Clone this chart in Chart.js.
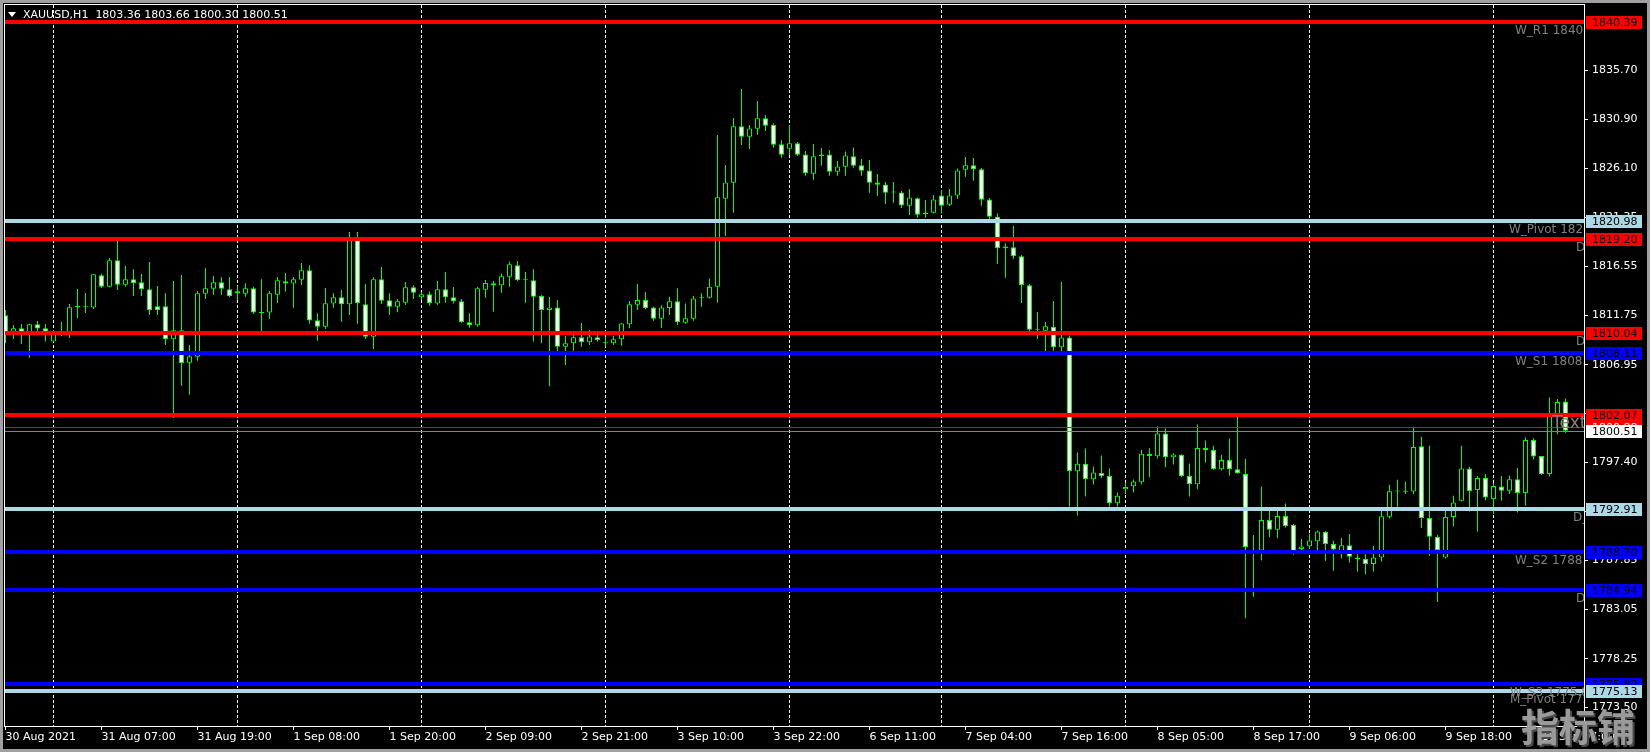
<!DOCTYPE html>
<html>
<head>
<meta charset="utf-8">
<script src="https://cdn.jsdelivr.net/npm/chart.js@4.4.1/dist/chart.umd.min.js"></script>
<style>
html,body{margin:0;padding:0;background:#000;overflow:hidden;}
canvas{display:block;}
</style>
</head>
<body>
<canvas id="c" width="1650" height="752"></canvas>
<script>
// ---------------- DATA (XAUUSD H1) ----------------
const openP = [1811.77,1810.17,1810.50,1809.85,1810.89,1810.50,1809.20,1810.20,1810.17,1812.58,
1812.55,1812.52,1815.67,1814.56,1817.13,1814.76,1815.28,1814.99,1814.30,1812.64,
1812.64,1809.42,1810.30,1807.15,1807.73,1813.88,1814.37,1814.99,1814.30,1814.11,
1813.88,1814.40,1812.03,1812.03,1813.78,1815.08,1814.86,1815.25,1816.16,1811.28,
1810.66,1812.91,1813.52,1812.84,1819.12,1812.84,1809.68,1815.28,1813.23,1812.61,
1813.00,1814.50,1813.52,1813.82,1812.91,1814.30,1813.52,1813.13,1811.08,1810.79,
1814.27,1814.89,1814.69,1815.54,1816.65,1815.28,1815.18,1813.65,1812.28,1812.54,
1808.71,1809.03,1809.62,1809.13,1809.62,1809.03,1809.03,1809.42,1810.89,1812.80,
1813.26,1812.54,1811.44,1812.48,1813.13,1811.05,1811.44,1813.49,1813.49,1814.56,
1823.15,1824.71,1830.21,1829.20,1829.98,1830.99,1830.34,1828.45,1828.03,1828.55,
1827.47,1825.58,1827.28,1827.47,1825.78,1826.27,1827.28,1826.40,1825.91,1824.74,
1824.54,1823.76,1823.76,1822.46,1823.18,1821.81,1821.78,1823.47,1822.56,1823.47,
1825.97,1826.40,1826.01,1823.08,1821.39,1818.49,1818.40,1817.52,1814.69,1810.39,
1810.26,1810.65,1808.64,1809.61,1796.55,1797.27,1795.77,1796.39,1796.10,1793.43,
1794.80,1795.09,1795.48,1798.25,1798.02,1800.23,1797.92,1798.15,1796.10,1795.28,
1798.83,1798.64,1796.75,1797.66,1796.75,1796.29,1788.60,1788.81,1791.80,1790.83,
1792.19,1791.32,1788.97,1789.23,1789.72,1790.64,1789.44,1788.59,1789.34,1788.14,
1787.98,1787.49,1788.14,1792.11,1794.58,1794.58,1794.58,1799.00,1791.98,1790.16,
1788.14,1792.08,1793.67,1796.82,1794.71,1795.88,1793.83,1795.07,1794.64,1795.78,
1794.42,1799.59,1798.03,1796.27,1802.00,1803.36];
const highP = [1812.29,1810.82,1810.92,1810.95,1811.21,1810.92,1810.30,1811.12,1812.87,1814.34,
1813.95,1815.80,1815.86,1817.36,1819.05,1816.58,1816.26,1815.80,1816.97,1814.63,
1813.91,1815.12,1815.70,1808.87,1814.14,1816.35,1815.60,1815.47,1815.51,1814.63,
1814.89,1814.56,1815.28,1814.14,1815.51,1815.90,1815.51,1816.87,1816.65,1811.96,
1814.43,1813.91,1814.24,1819.90,1819.90,1814.82,1815.47,1816.48,1813.91,1813.36,
1815.02,1814.69,1814.04,1814.08,1815.12,1816.00,1814.53,1813.36,1811.96,1814.56,
1815.21,1815.12,1815.86,1817.00,1817.07,1816.00,1816.27,1813.75,1813.55,1813.26,
1809.75,1810.01,1811.02,1810.33,1809.85,1809.68,1809.75,1811.05,1813.16,1814.82,
1814.04,1812.61,1812.74,1813.59,1814.40,1812.93,1813.65,1813.91,1815.37,1829.36,
1826.43,1831.02,1833.85,1830.34,1832.68,1831.31,1830.50,1828.84,1830.31,1828.68,
1827.80,1828.48,1828.09,1827.89,1826.82,1827.76,1828.15,1827.02,1826.92,1825.55,
1824.77,1824.77,1823.89,1824.06,1823.27,1823.01,1823.50,1823.99,1824.09,1826.10,
1827.21,1827.11,1826.14,1823.21,1821.71,1818.79,1820.48,1817.65,1814.82,1812.08,
1811.11,1813.16,1815.01,1809.80,1798.38,1798.77,1797.01,1798.08,1796.81,1794.47,
1795.45,1795.74,1798.64,1798.80,1800.91,1800.72,1798.31,1798.20,1797.30,1801.11,
1799.55,1799.03,1798.15,1799.74,1801.89,1797.76,1790.34,1795.06,1792.71,1792.71,
1793.40,1791.40,1789.95,1790.44,1790.76,1790.70,1789.76,1790.03,1790.42,1788.46,
1788.46,1789.28,1792.69,1795.23,1795.72,1795.52,1800.79,1799.91,1799.04,1790.35,
1792.69,1794.16,1799.04,1796.99,1796.08,1796.27,1795.43,1796.08,1796.11,1796.86,
1799.85,1799.78,1798.05,1803.75,1803.59,1803.66];
const lowP = [1809.03,1809.46,1808.97,1807.63,1810.17,1809.20,1809.15,1809.75,1809.55,1811.51,
1811.99,1812.38,1814.43,1814.50,1814.24,1814.56,1813.65,1813.65,1811.80,1811.80,
1808.87,1801.74,1804.90,1804.02,1807.34,1813.36,1813.78,1813.78,1813.52,1813.26,
1813.59,1811.90,1810.24,1811.41,1812.97,1814.08,1812.51,1814.73,1810.95,1809.29,
1810.43,1812.51,1811.15,1811.80,1810.95,1809.46,1808.48,1812.87,1811.80,1812.09,
1812.77,1813.36,1813.26,1812.71,1812.81,1813.00,1812.91,1811.05,1810.56,1810.66,
1813.49,1812.12,1813.98,1814.56,1815.08,1813.00,1809.19,1809.03,1804.85,1808.20,
1806.91,1808.30,1808.71,1808.87,1809.19,1808.71,1808.87,1808.80,1810.50,1812.28,
1812.35,1811.24,1810.53,1811.80,1810.82,1810.95,1811.24,1812.61,1813.40,1813.00,
1819.50,1821.78,1828.39,1828.00,1829.36,1829.75,1828.13,1827.15,1827.41,1827.31,
1825.39,1825.00,1826.37,1825.39,1825.39,1825.39,1826.17,1825.39,1823.73,1823.40,
1822.62,1822.75,1822.23,1821.55,1821.29,1821.29,1821.70,1821.71,1822.43,1823.11,
1825.29,1824.90,1822.46,1821.16,1816.77,1815.43,1817.29,1812.96,1810.16,1809.45,
1808.20,1808.31,1808.20,1793.10,1792.23,1794.08,1795.25,1795.87,1793.10,1793.10,
1794.34,1794.47,1795.25,1795.97,1797.79,1796.94,1797.20,1795.97,1794.08,1794.80,
1797.40,1796.70,1796.62,1796.13,1796.30,1782.20,1784.30,1787.84,1790.11,1790.02,
1791.06,1788.39,1788.49,1788.97,1788.49,1787.81,1786.84,1788.04,1787.65,1786.77,
1786.51,1786.77,1787.75,1791.94,1793.08,1794.32,1794.32,1791.00,1788.30,1783.80,
1788.04,1791.16,1793.60,1792.63,1790.68,1793.73,1792.37,1793.67,1794.32,1792.53,
1793.18,1797.73,1796.20,1796.04,1800.17,1800.30];
const closeP = [1810.07,1810.50,1809.85,1810.89,1810.47,1810.17,1810.24,1810.05,1812.55,1812.58,
1812.60,1815.77,1814.56,1817.13,1814.76,1815.28,1814.89,1814.30,1812.25,1812.25,
1809.42,1810.30,1807.08,1807.77,1813.91,1814.40,1814.99,1814.37,1813.62,1813.91,
1814.40,1812.03,1812.00,1813.91,1815.18,1814.86,1815.28,1816.16,1811.25,1810.66,
1812.94,1813.52,1812.84,1819.10,1812.94,1809.68,1815.28,1813.20,1812.61,1813.13,
1814.50,1813.98,1813.82,1812.94,1814.30,1813.52,1813.13,1811.08,1810.79,1814.40,
1814.92,1814.69,1815.57,1816.74,1815.18,1815.25,1813.58,1812.28,1812.54,1808.71,
1809.03,1809.62,1809.13,1809.71,1809.36,1809.03,1809.42,1810.98,1812.84,1813.26,
1812.48,1811.44,1812.54,1813.13,1811.08,1811.47,1813.42,1813.50,1814.56,1823.28,
1824.74,1830.21,1829.20,1830.01,1830.99,1830.27,1828.42,1827.44,1828.55,1827.44,
1825.62,1827.28,1827.47,1825.78,1826.30,1827.37,1826.37,1825.88,1824.71,1824.51,
1823.73,1823.76,1822.49,1823.27,1821.58,1821.62,1823.08,1822.46,1823.47,1825.91,
1826.40,1826.01,1823.05,1821.39,1818.30,1818.30,1817.52,1814.69,1810.36,1810.36,
1810.69,1808.64,1809.61,1796.55,1797.27,1795.77,1796.42,1796.07,1793.43,1794.15,
1795.02,1795.55,1798.25,1798.05,1800.23,1797.92,1798.18,1796.07,1795.28,1798.83,
1798.60,1796.75,1797.66,1796.75,1796.36,1789.15,1788.90,1791.80,1790.83,1792.19,
1791.19,1788.65,1789.20,1789.79,1790.67,1789.44,1788.92,1789.34,1788.20,1787.98,
1787.49,1788.14,1792.17,1794.61,1794.60,1794.55,1798.91,1791.98,1790.16,1788.85,
1792.08,1793.51,1796.82,1794.61,1795.88,1794.00,1795.10,1794.64,1795.78,1794.42,
1799.59,1797.99,1796.27,1801.96,1803.30,1800.51];

// time-axis labels (bar index -> text)
const xTickIdx  = [0,12,24,36,48,60,72,84,96,108,120,132,144,156,168,180,192];
const xTickText = ['30 Aug 2021','31 Aug 07:00','31 Aug 19:00','1 Sep 08:00','1 Sep 20:00',
  '2 Sep 09:00','2 Sep 21:00','3 Sep 10:00','3 Sep 22:00','6 Sep 11:00','7 Sep 04:00',
  '7 Sep 16:00','8 Sep 05:00','8 Sep 17:00','9 Sep 06:00','9 Sep 18:00','10 Sep 07:00'];
// day separators (bar index)
const dayIdx = [6,29,52,75,98,117,140,163,186];
// price axis labels
const yTickVals = [1835.70,1830.90,1826.10,1821.35,1816.55,1811.75,1806.95,1802.15,1797.40,1792.60,1787.85,1783.05,1778.25,1773.50];
// pivot levels
const levelVals  = [1840.39,1820.98,1819.20,1810.04,1808.11,1802.07,1792.91,1788.70,1784.94,1775.82,1775.13];
const levelKinds = ['R','P','R','R','S','R','P','S','S','S','P'];
// level text objects
const noteText = ['W_R1 1840.39','W_Pivot 1820.98','D_R1 1819.20','D_Pivot 1810.04','W_S1 1808.11',
  'D_S1 1792.91','W_S2 1788.70','D_S2 1784.94','W_S3 1775.82','M_Pivot 1775.13'];
const noteVals = [1840.39,1820.98,1819.20,1810.04,1808.11,1792.91,1788.70,1784.94,1775.82,1775.13];
const bidPrice = 1800.51, askPrice = 1800.88;
const titleText = 'XAUUSD,H1  1803.36 1803.66 1800.30 1800.51';

// ---------------- STYLE ----------------
const kindColor = {R:'#ff0000', P:'#add8e6', S:'#0000ff'};
const noteDx = [69,75,8,8,69,11,69,8,74,74];
const FONT = '"DejaVu Sans", sans-serif';
Chart.defaults.font.family = FONT;
Chart.defaults.font.size = 11;

const idx = openP.map((_, i) => i);
const wickData = idx.map(i => ({x: i, y: [lowP[i], highP[i]]}));
const bodyData = idx.map(i => ({x: i, y: [openP[i], closeP[i]]}));
const bodyFill = idx.map(i => closeP[i] < openP[i] ? '#ffffff' : '#000000');

const mt4 = {
  id: 'mt4',
  beforeDraw(chart) {
    const c = chart.ctx;
    c.save(); c.fillStyle = '#000'; c.fillRect(0, 0, chart.width, chart.height); c.restore();
  },
  beforeDatasetsDraw(chart) {
    const c = chart.ctx, a = chart.chartArea, xs = chart.scales.x;
    c.save();
    c.strokeStyle = '#ffffff'; c.lineWidth = 1; c.setLineDash([3, 2]);
    dayIdx.forEach(k => {
      const x = Math.floor(xs.getPixelForValue(k)) + 0.5;
      c.beginPath(); c.moveTo(x, a.top); c.lineTo(x, a.bottom); c.stroke();
    });
    c.restore();
  },
  afterDatasetsDraw(chart) {
    const c = chart.ctx, a = chart.chartArea, ys = chart.scales.y;
    c.save();
    c.beginPath(); c.rect(a.left, a.top, a.right - a.left, a.bottom - a.top); c.clip();
    // ask / bid lines
    let y = Math.round(ys.getPixelForValue(askPrice));
    c.fillStyle = '#ff0000'; c.fillRect(a.left, y, a.right - a.left, 1);
    y = Math.round(ys.getPixelForValue(bidPrice));
    c.fillStyle = '#778899'; c.fillRect(a.left, y, a.right - a.left, 1);
    // level lines
    levelVals.forEach((v, i) => {
      const yy = Math.round(ys.getPixelForValue(v));
      c.fillStyle = kindColor[levelKinds[i]];
      c.fillRect(a.left, yy - 2, a.right - a.left, 4);
    });
    // text objects
    c.fillStyle = '#808080'; c.textBaseline = 'top'; c.textAlign = 'left';
    c.font = '12px ' + FONT;
    noteVals.forEach((v, i) => {
      const yy = Math.round(ys.getPixelForValue(v));
      c.fillText(noteText[i], a.right - noteDx[i], yy + 3);
    });
    c.font = '17px ' + FONT;
    c.textBaseline = 'middle';
    c.fillText('Text', a.right - 32, Math.round(ys.getPixelForValue(bidPrice)) - 7);
    c.restore();
  },
  afterDraw(chart) {
    const c = chart.ctx, a = chart.chartArea, ys = chart.scales.y;
    c.save();
    // plot frame (top, left)
    c.fillStyle = '#ffffff';
    c.fillRect(a.left - 1, a.top - 1, a.right - a.left + 2, 1);
    c.fillRect(a.left - 1, a.top - 1, 1, a.bottom - a.top + 2);
    // price boxes
    c.font = '11px ' + FONT; c.textAlign = 'left'; c.textBaseline = 'middle';
    const box = (v, bg, fg) => {
      const yy = Math.round(ys.getPixelForValue(v));
      c.fillStyle = bg; c.fillRect(a.right + 2, yy - 6, 56, 13);
      c.fillStyle = fg; c.fillText(v.toFixed(2), a.right + 8, yy + 1);
    };
    levelVals.forEach((v, i) => box(v, kindColor[levelKinds[i]], '#000000'));
    box(askPrice, '#ff0000', '#ffffff');
    box(bidPrice, '#ffffff', '#000000');
    // title
    c.fillStyle = '#ffffff';
    c.beginPath(); c.moveTo(8, 12); c.lineTo(16, 12); c.lineTo(12, 17); c.closePath(); c.fill();
    c.font = '11px ' + FONT; c.textBaseline = 'middle';
    c.fillText(titleText, 23, 15);
    // watermark
    c.font = 'bold 38px "Noto Sans CJK SC", sans-serif';
    c.textBaseline = 'middle';
    c.fillStyle = '#4a4a4a'; c.fillText('指标铺', 1523, 729);
    c.fillStyle = '#9a9a9a'; c.fillText('指标铺', 1521, 727);
    // window frame
    c.fillStyle = '#a0a0a0';
    c.fillRect(0, 0, chart.width, 3);
    c.fillRect(0, 0, 3, chart.height);
    c.fillRect(0, chart.height - 3, chart.width, 3);
    c.fillRect(chart.width - 3, 0, 3, chart.height);
    c.restore();
  }
};

new Chart(document.getElementById('c'), {
  type: 'bar',
  data: {
    datasets: [
      {data: wickData, backgroundColor: '#00ff00', borderWidth: 0, barThickness: 1,
       grouped: false, order: 2, inflateAmount: 0},
      {data: bodyData, backgroundColor: bodyFill, borderColor: '#00ff00', borderWidth: 1,
       borderSkipped: false, barThickness: 5, grouped: false, order: 1, inflateAmount: 0, minBarLength: 1}
    ]
  },
  options: {
    responsive: false, devicePixelRatio: 1, animation: false, events: [],
    layout: {padding: {left: 5, top: 5, right: 0, bottom: 0}},
    plugins: {legend: {display: false}, tooltip: {enabled: false}},
    scales: {
      x: {
        type: 'linear', min: -0.0625, max: 197.3125, bounds: 'data', offset: false,
        grid: {drawOnChartArea: false, offset: false, tickLength: 4, color: '#ffffff'},
        border: {color: '#ffffff'},
        afterBuildTicks: s => { s.ticks = xTickIdx.map(v => ({value: v})); },
        afterFit: s => { s.height = 26; s.paddingLeft = 0; s.paddingRight = 0; },
        ticks: {color: '#ffffff', align: 'start', maxRotation: 0, autoSkip: false, padding: 1,
                callback: (v, i) => xTickText[i]}
      },
      y: {
        type: 'linear', position: 'right', min: 1771.69, max: 1842.05, bounds: 'data',
        grid: {drawOnChartArea: false, tickLength: 4, color: '#ffffff'},
        border: {color: '#ffffff'},
        afterBuildTicks: s => { s.ticks = yTickVals.map(v => ({value: v})); },
        afterFit: s => { s.width = 66; s.paddingTop = 0; s.paddingBottom = 0; },
        ticks: {color: '#ffffff', padding: 4, autoSkip: false, callback: v => v.toFixed(2)}
      }
    }
  },
  plugins: [mt4]
});
</script>
</body>
</html>
